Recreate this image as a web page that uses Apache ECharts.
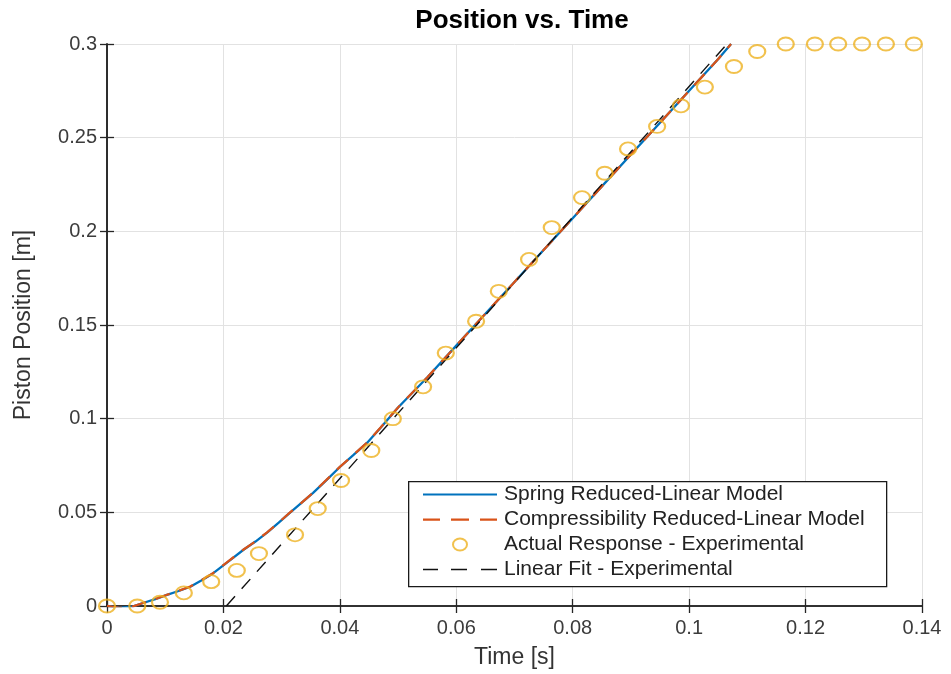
<!DOCTYPE html>
<html>
<head>
<meta charset="utf-8">
<script src="https://cdn.jsdelivr.net/npm/echarts@6/dist/echarts.min.js"></script>
<style>
  html, body { margin: 0; padding: 0; background: #fff; }
  #chart { width: 951px; height: 674px; }
</style>
</head>
<body>
<div id="chart"></div>
<script>
// Simulation time base for the two reduced-linear models [s]
const modelTime = [0, 0.0022, 0.0045, 0.0062, 0.0083, 0.0103, 0.0123, 0.0143, 0.0162, 0.0182,
  0.0206, 0.0234, 0.0255, 0.0275, 0.0295, 0.0314, 0.0334, 0.0354, 0.0377, 0.040, 0.0423,
  0.0447, 0.047, 0.050, 0.055, 0.060, 0.065, 0.070, 0.075, 0.080, 0.085, 0.090,
  0.095, 0.100, 0.105, 0.1072];
// Piston position predicted by the spring reduced-linear model [m]
const springModel = [0, -0.001, -0.0002, 0.0016, 0.0037, 0.0059, 0.0080, 0.0103, 0.0136, 0.0174,
  0.0232, 0.0299, 0.0344, 0.0392, 0.0445, 0.0497, 0.0550, 0.0604, 0.0672, 0.0742, 0.0805,
  0.0872, 0.0952, 0.106, 0.122, 0.139, 0.156, 0.173, 0.190, 0.207, 0.224, 0.241,
  0.258, 0.275, 0.292, 0.300];
// Piston position predicted by the compressibility reduced-linear model [m]
const compressModel = [0, -0.001, -0.0002, 0.0016, 0.0037, 0.0060, 0.0081, 0.0104, 0.0137, 0.0175,
  0.0233, 0.0300, 0.0345, 0.0393, 0.0446, 0.0498, 0.0551, 0.0605, 0.0673, 0.0743, 0.0806,
  0.0873, 0.0953, 0.106, 0.122, 0.139, 0.156, 0.173, 0.190, 0.207, 0.224, 0.241,
  0.258, 0.275, 0.292, 0.300];

// Measured response [s], [m]
const expTime = [0, 0.0052, 0.0091, 0.0132, 0.0179, 0.0223, 0.0261, 0.0323, 0.0362, 0.0402,
  0.0454, 0.0491, 0.0543, 0.0582, 0.0634, 0.0673, 0.0725, 0.0764, 0.0816, 0.0855, 0.0895,
  0.0945, 0.0986, 0.1027, 0.1077, 0.1117, 0.1166, 0.1216, 0.1256, 0.1297, 0.1338, 0.1386];
const expPosition = [0, 0, 0.002, 0.007, 0.013, 0.019, 0.028, 0.038, 0.052, 0.067,
  0.083, 0.100, 0.117, 0.135, 0.152, 0.168, 0.185, 0.202, 0.218, 0.231, 0.244,
  0.256, 0.267, 0.277, 0.288, 0.296, 0.300, 0.300, 0.300, 0.300, 0.300, 0.300];

// Linear fit of the measured response (end points)
const fitTime = [0.0205, 0.1065];
const fitPosition = [0, 0.300];

// Axis ranges and tick spacing
const xRange = [0, 0.14], xStep = 0.02;
const yRange = [0, 0.3], yStep = 0.05;

// Legend entries
const legendNames = [
  'Spring Reduced-Linear Model',
  'Compressibility Reduced-Linear Model',
  'Actual Response - Experimental',
  'Linear Fit - Experimental'
];

const pairs = (xs, ys) => xs.map((x, i) => [x, ys[i]]);
const fmt = v => String(+v.toFixed(4));

const FONT = '"Liberation Sans", Arial, Helvetica, sans-serif';
const BLUE = '#0072BD', RED = '#D95319', GOLD = '#EDB120';

// Legend glyphs, 74x18 boxes (the leading moves fix the bounding box)
const BOX = 'M0,0M74,18';
const ICON_SOLID = 'path://' + BOX + 'M0,7.9h74v2.2h-74z';
const ICON_RED_DASH = 'path://' + BOX + 'M0,7.9h17v2.4h-17zM28,7.9h18v2.4h-18zM57,7.9h17v2.4h-17z';
const ICON_BLACK_DASH = 'path://' + BOX + 'M0,8.2h15v1.5h-15zM28,8.2h16v1.5h-16zM58,8.2h16v1.5h-16z';
const ICON_RING = 'path://' + BOX + 'M30,9a7,6 0 1,0 14,0a7,6 0 1,0 -14,0z';

function axisBase(showLabels, labelMargin) {
  return {
    type: 'value',
    axisLine: { show: true, lineStyle: { color: '#262626', width: 1.6 } },
    axisTick: { show: true, inside: true, length: 7, lineStyle: { color: '#262626', width: 1.3 } },
    axisLabel: { show: showLabels, color: '#3c3c3c', fontSize: 20, fontFamily: FONT, formatter: fmt, margin: labelMargin || 10 },
    splitLine: { show: false }
  };
}

const chart = echarts.init(document.getElementById('chart'), null, { renderer: 'canvas' });

chart.setOption({
  backgroundColor: '#fff',
  animation: false,
  title: {
    text: 'Position vs. Time',
    left: 517, top: 3, textAlign: 'center',
    textStyle: { fontFamily: FONT, fontSize: 26, fontWeight: 'bold', color: '#000' }
  },
  grid: { left: 107, right: 29, top: 44, bottom: 68 },
  xAxis: [
    Object.assign(axisBase(true, 12), {
      min: xRange[0], max: xRange[1], interval: xStep, position: 'bottom',
      name: 'Time [s]', nameLocation: 'middle', nameGap: 40,
      nameTextStyle: { fontFamily: FONT, fontSize: 23, color: '#333' },
      splitLine: { show: true, lineStyle: { color: '#e2e2e2', width: 1 } }
    }),
    Object.assign(axisBase(false), {
      min: xRange[0], max: xRange[1], interval: xStep, position: 'top'
    })
  ],
  yAxis: [
    Object.assign(axisBase(true), {
      min: yRange[0], max: yRange[1], interval: yStep, position: 'left',
      name: 'Piston Position [m]', nameLocation: 'middle', nameGap: 72,
      nameTextStyle: { fontFamily: FONT, fontSize: 23, color: '#333' },
      splitLine: { show: true, lineStyle: { color: '#e2e2e2', width: 1 } }
    }),
    Object.assign(axisBase(false), {
      min: yRange[0], max: yRange[1], interval: yStep, position: 'right'
    })
  ],
  graphic: [{
    type: 'rect',
    left: 408, top: 481, z: 3,
    shape: { width: 478, height: 105 },
    style: { fill: '#fff', stroke: '#1a1a1a', lineWidth: 1.3 }
  }],
  legend: {
    orient: 'vertical',
    left: 408, top: 481,
    padding: [3, 10, 5, 14],
    itemGap: 4,
    itemWidth: 74, itemHeight: 18,
    z: 5,
    textStyle: { fontFamily: FONT, fontSize: 21, color: '#222', padding: [0, 0, 0, 2] },
    data: [
      { name: legendNames[0], icon: ICON_SOLID, itemStyle: { color: BLUE, borderWidth: 0 } },
      { name: legendNames[1], icon: ICON_RED_DASH, itemStyle: { color: RED, borderWidth: 0 } },
      { name: legendNames[2], icon: ICON_RING,
        itemStyle: { color: 'rgba(255,255,255,0)', borderColor: GOLD, borderWidth: 2 } },
      { name: legendNames[3], icon: ICON_BLACK_DASH, itemStyle: { color: '#111', borderWidth: 0 } }
    ]
  },
  series: [
    {
      name: legendNames[0],
      type: 'line',
      data: pairs(modelTime, springModel),
      showSymbol: false, symbol: 'none',
      lineStyle: { color: BLUE, width: 2.3 },
      itemStyle: { color: BLUE },
      z: 2
    },
    {
      name: legendNames[1],
      type: 'line',
      data: pairs(modelTime, compressModel),
      showSymbol: false, symbol: 'none',
      lineStyle: { color: RED, width: 2.3, type: [15, 10] },
      itemStyle: { color: RED },
      z: 3
    },
    {
      name: legendNames[2],
      type: 'scatter',
      data: pairs(expTime, expPosition),
      symbol: 'circle', symbolSize: [16, 13],
      itemStyle: { color: 'rgba(255,255,255,0)', borderColor: GOLD, borderWidth: 2 },
      z: 4
    },
    {
      name: legendNames[3],
      type: 'line',
      data: pairs(fitTime, fitPosition),
      showSymbol: false, symbol: 'none',
      lineStyle: { color: '#111', width: 1.4, type: [13, 10] },
      itemStyle: { color: '#111' },
      z: 3
    }
  ]
});
</script>
</body>
</html>
